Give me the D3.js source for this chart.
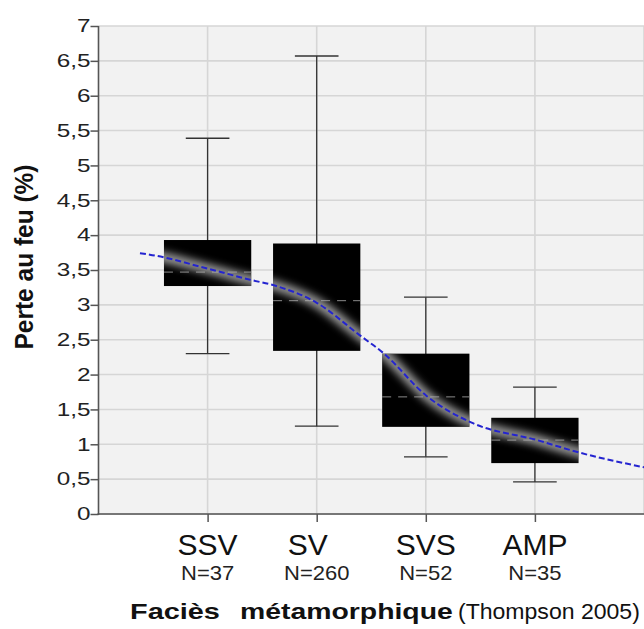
<!DOCTYPE html>
<html>
<head>
<meta charset="utf-8">
<script src="https://cdn.jsdelivr.net/npm/d3@7"></script>
<style>
  body { margin: 0; background: #fff; }
  svg { display: block; font-family: "Liberation Sans", Arial, sans-serif; }
</style>
</head>
<body>
<svg id="chart" width="644" height="629"></svg>
<script>
// boxplot values
const categories = ["SSV", "SV", "SVS", "AMP"];
const counts = ["N=37", "N=260", "N=52", "N=35"];
const whiskerLow = [2.30, 1.26, 0.82, 0.46];
const q1 = [3.27, 2.34, 1.25, 0.73];
const medians = [3.47, 3.06, 1.68, 1.06];
const q3 = [3.93, 3.88, 2.30, 1.38];
const whiskerHigh = [5.39, 6.57, 3.11, 1.82];

// dashed trend curve (x in category units, SSV = 1)
const trendX = [0.38, 0.47, 1.0, 1.39, 1.63, 2.0, 2.39, 2.61, 3.01, 3.42, 4.02, 4.41, 5.0];
const trendY = [3.74, 3.72, 3.52, 3.36, 3.27, 3.03, 2.57, 2.31, 1.69, 1.31, 1.06, 0.88, 0.67];

const yTicks = [0, 0.5, 1, 1.5, 2, 2.5, 3, 3.5, 4, 4.5, 5, 5.5, 6, 6.5, 7];

const svg = d3.select("#chart");
const plotLeft = 98.5, plotRight = 644, plotTop = 26, plotBottom = 514;

const x = d3.scaleLinear().domain([0, 5]).range([plotLeft, plotRight]);
const y = d3.scaleLinear().domain([0, 7]).range([plotBottom, plotTop]);
const band = x(1) - x(0);
const boxW = band * 0.8;
const capW = band * 0.4;

const defs = svg.append("defs");
defs.append("filter")
  .attr("id", "glow")
  .attr("x", "-20%").attr("y", "-20%").attr("width", "140%").attr("height", "140%")
  .append("feGaussianBlur").attr("stdDeviation", 4);

const clip = defs.append("clipPath").attr("id", "boxes");
categories.forEach((c, i) => {
  clip.append("rect")
    .attr("x", x(i + 1) - boxW / 2)
    .attr("y", y(q3[i]))
    .attr("width", boxW)
    .attr("height", y(q1[i]) - y(q3[i]));
});

// plot background and grid
svg.append("rect")
  .attr("x", plotLeft).attr("y", plotTop)
  .attr("width", plotRight - plotLeft).attr("height", plotBottom - plotTop)
  .attr("fill", "#f2f2f2");

svg.append("g")
  .selectAll("line")
  .data(yTicks)
  .join("line")
  .attr("x1", plotLeft).attr("x2", plotRight)
  .attr("y1", d => y(d)).attr("y2", d => y(d))
  .attr("stroke", "#d6d6d6").attr("stroke-width", 1.6);

svg.append("g")
  .selectAll("line")
  .data(d3.range(1, 6))
  .join("line")
  .attr("x1", d => x(d)).attr("x2", d => x(d))
  .attr("y1", plotTop).attr("y2", plotBottom)
  .attr("stroke", "#d6d6d6").attr("stroke-width", 1.6);

// whiskers
const boxes = svg.append("g")
  .selectAll("g")
  .data(categories.map((c, i) => ({ c, i })))
  .join("g");

boxes.append("line")
  .attr("x1", d => x(d.i + 1)).attr("x2", d => x(d.i + 1))
  .attr("y1", d => y(whiskerHigh[d.i])).attr("y2", d => y(whiskerLow[d.i]))
  .attr("stroke", "#333").attr("stroke-width", 1.3);

boxes.selectAll(".cap")
  .data(d => [{ i: d.i, v: whiskerHigh[d.i] }, { i: d.i, v: whiskerLow[d.i] }])
  .join("line")
  .attr("class", "cap")
  .attr("x1", d => x(d.i + 1) - capW / 2).attr("x2", d => x(d.i + 1) + capW / 2)
  .attr("y1", d => y(d.v)).attr("y2", d => y(d.v))
  .attr("stroke", "#333").attr("stroke-width", 1.3);

boxes.append("rect")
  .attr("x", d => x(d.i + 1) - boxW / 2)
  .attr("y", d => y(q3[d.i]))
  .attr("width", boxW)
  .attr("height", d => y(q1[d.i]) - y(q3[d.i]))
  .attr("fill", "#000");

boxes.append("line")
  .attr("x1", d => x(d.i + 1) - boxW / 2).attr("x2", d => x(d.i + 1) + boxW / 2)
  .attr("y1", d => y(medians[d.i])).attr("y2", d => y(medians[d.i]))
  .attr("stroke", "#8a8a8a").attr("stroke-width", 1)
  .attr("stroke-dasharray", "9,7");

// trend curve: soft glow inside the boxes, then the blue dashes
const trend = trendX.map((v, i) => [v, trendY[i]]);
const line = d3.line()
  .x(d => x(d[0]))
  .y(d => y(d[1]))
  .curve(d3.curveMonotoneX);

svg.append("g")
  .attr("clip-path", "url(#boxes)")
  .append("path")
  .attr("d", line(trend))
  .attr("fill", "none")
  .attr("stroke", "#b0b0b0")
  .attr("stroke-width", 9)
  .attr("filter", "url(#glow)");

svg.append("path")
  .attr("d", line(trend))
  .attr("fill", "none")
  .attr("stroke", "#2424d0")
  .attr("stroke-width", 2)
  .attr("stroke-dasharray", "6,3");

// axes
const yAxis = svg.append("g")
  .attr("transform", `translate(${plotLeft},0)`)
  .call(d3.axisLeft(y).tickValues(yTicks).tickSize(8)
    .tickFormat(d => String(d).replace(".", ",")));
yAxis.select(".domain").remove();
yAxis.selectAll(".tick line").attr("stroke", "#555").attr("stroke-width", 1.5);
yAxis.selectAll(".tick text")
  .attr("font-size", 18)
  .attr("font-family", "Liberation Sans, Arial, sans-serif")
  .attr("fill", "#222")
  .attr("x", -6)
  .attr("transform", "scale(1.35,1)");

const xAxis = svg.append("g")
  .attr("transform", `translate(0,${plotBottom})`)
  .call(d3.axisBottom(x).tickValues([1, 2, 3, 4]).tickSize(8).tickFormat(""));
xAxis.select(".domain").remove();
xAxis.selectAll(".tick line").attr("stroke", "#555").attr("stroke-width", 1.5);

svg.append("line")
  .attr("x1", plotLeft).attr("x2", plotLeft).attr("y1", plotTop).attr("y2", plotBottom + 1)
  .attr("stroke", "#555").attr("stroke-width", 1.6);
svg.append("line")
  .attr("x1", plotLeft - 1).attr("x2", plotRight).attr("y1", plotBottom).attr("y2", plotBottom)
  .attr("stroke", "#555").attr("stroke-width", 1.6);

// category labels
svg.append("g")
  .selectAll("text")
  .data(categories)
  .join("text")
  .attr("x", (d, i) => x(i + 1) + (d === "SV" ? -9 : 0))
  .attr("y", 555)
  .attr("text-anchor", "middle")
  .attr("font-size", 30)
  .attr("fill", "#111")
  .text(d => d);

svg.append("g")
  .selectAll("text")
  .data(counts)
  .join("text")
  .attr("transform", (d, i) => `translate(${x(i + 1)},580) scale(1.1,1)`)
  .attr("text-anchor", "middle")
  .attr("font-size", 20)
  .attr("fill", "#222")
  .text(d => d);

// axis titles: each piece is widened to the width it has in the picture
const titleParts = [
  { text: "Faciès", x: 130, len: 90, bold: true },
  { text: "métamorphique", x: 240, len: 213, bold: true },
  { text: "(Thompson 2005)", x: 458, len: 182, bold: false },
];
svg.append("g")
  .selectAll("text")
  .data(titleParts)
  .join("text")
  .attr("font-size", 22)
  .attr("font-weight", d => d.bold ? "bold" : "normal")
  .attr("fill", "#111")
  .text(d => d.text)
  .attr("transform", function (d) {
    const w = this.getComputedTextLength();
    return `translate(${d.x},619) scale(${d.len / w},1)`;
  });

svg.append("text")
  .attr("transform", "translate(33,257) rotate(-90)")
  .attr("text-anchor", "middle")
  .attr("font-size", 25)
  .attr("font-weight", "bold")
  .attr("fill", "#111")
  .attr("textLength", 185)
  .attr("lengthAdjust", "spacingAndGlyphs")
  .text("Perte au feu (%)");
</script>
</body>
</html>
